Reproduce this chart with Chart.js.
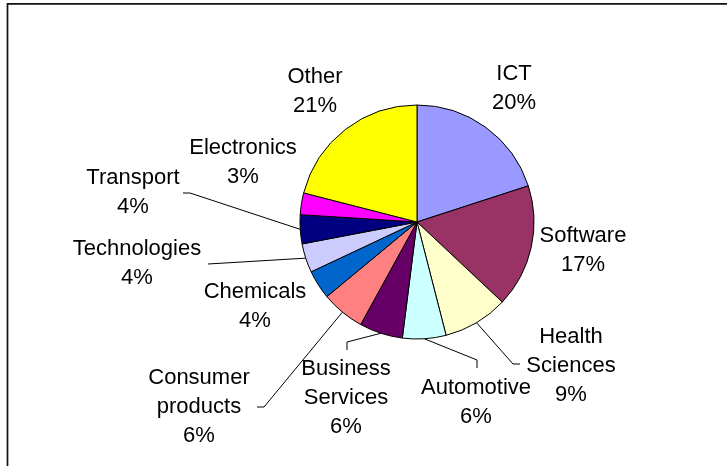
<!DOCTYPE html>
<html lang="en">
    <head>
        <meta charset="UTF-8" />
        <title>Sector breakdown</title>
        <script src="https://cdn.jsdelivr.net/npm/chart.js@4/dist/chart.umd.min.js"></script>
        <style>
            body {
                margin: 0;
                background: #fff;
            }
            #sectorChart {
                display: block;
            }
        </style>
    </head>
    <body>
        <canvas id="sectorChart" width="727" height="466"></canvas>
        <script>
            // Sector shares, clockwise from 12 o'clock
            const sectors = ['ICT', 'Software', 'Health\nSciences', 'Automotive', 'Business\nServices',
                'Consumer\nproducts', 'Chemicals', 'Technologies', 'Transport', 'Electronics', 'Other'];
            const shares = [20, 17, 9, 6, 6, 6, 4, 4, 4, 3, 21];

            const sliceColors = ['#9999FF', '#993366', '#FFFFCC', '#CCFFFF', '#660066',
                '#FF8080', '#0066CC', '#CCCCFF', '#000080', '#FF00FF', '#FFFF00'];

            // Where each label block sits (centre x, middle of first line)
            const labelPos = [
                [514, 74], [583, 236], [571, 337], [476, 388], [346, 369],
                [199, 378], [255, 292], [137, 249], [133, 178], [243, 148], [315, 77]
            ];
            // Leader lines: [elbow, end] or null
            const leaders = [
                null, null,
                [[513, 364], [520, 364]],
                [[477, 360], [477, 368]],
                [[347, 342], [347, 350]],
                [[264, 407], [257, 407]],
                null,
                [[208, 264], [208, 264]],
                [[190, 193], [183, 193]],
                null, null
            ];

            const FONT = '22px "Liberation Sans", Arial, sans-serif';
            const LINE_H = 28.8;

            const frame = {
                id: 'frame',
                beforeDraw(chart) {
                    const ctx = chart.ctx;
                    ctx.save();
                    ctx.fillStyle = '#fff';
                    ctx.fillRect(0, 0, chart.width, chart.height);
                    ctx.strokeStyle = '#111';
                    ctx.lineWidth = 1.7;
                    ctx.beginPath();
                    ctx.moveTo(7.5, chart.height);
                    ctx.lineTo(7.5, 3.8);
                    ctx.lineTo(chart.width, 3.8);
                    ctx.stroke();
                    ctx.restore();
                }
            };

            const sliceLabels = {
                id: 'sliceLabels',
                afterDraw(chart) {
                    const ctx = chart.ctx;
                    const meta = chart.getDatasetMeta(0);
                    const total = shares.reduce((a, b) => a + b, 0);
                    ctx.save();
                    ctx.font = FONT;
                    ctx.fillStyle = '#000';
                    ctx.textAlign = 'center';
                    ctx.textBaseline = 'middle';
                    ctx.strokeStyle = '#000';
                    ctx.lineWidth = 1;
                    meta.data.forEach((arc, i) => {
                        const p = arc.getProps(['x', 'y', 'startAngle', 'endAngle', 'outerRadius'], true);
                        const mid = (p.startAngle + p.endAngle) / 2;
                        if (leaders[i]) {
                            const [elbow, end] = leaders[i];
                            ctx.beginPath();
                            ctx.moveTo(p.x + Math.cos(mid) * p.outerRadius, p.y + Math.sin(mid) * p.outerRadius);
                            ctx.lineTo(elbow[0], elbow[1]);
                            ctx.lineTo(end[0], end[1]);
                            ctx.stroke();
                        }
                        const pct = Math.round(shares[i] / total * 100) + '%';
                        const lines = sectors[i].split('\n').concat(pct);
                        const [lx, ly] = labelPos[i];
                        lines.forEach((t, k) => ctx.fillText(t, lx, ly + k * LINE_H));
                    });
                    ctx.restore();
                }
            };

            new Chart(document.getElementById('sectorChart'), {
                type: 'pie',
                data: {
                    labels: sectors,
                    datasets: [{
                        data: shares,
                        backgroundColor: sliceColors,
                        borderColor: '#000',
                        borderWidth: 1
                    }]
                },
                options: {
                    responsive: false,
                    animation: false,
                    devicePixelRatio: 1,
                    layout: {
                        padding: { left: 299.5, right: 192.5, top: 104.5, bottom: 126.5 }
                    },
                    plugins: {
                        legend: { display: false },
                        tooltip: { enabled: false }
                    }
                },
                plugins: [frame, sliceLabels]
            });
        </script>
    </body>
</html>
